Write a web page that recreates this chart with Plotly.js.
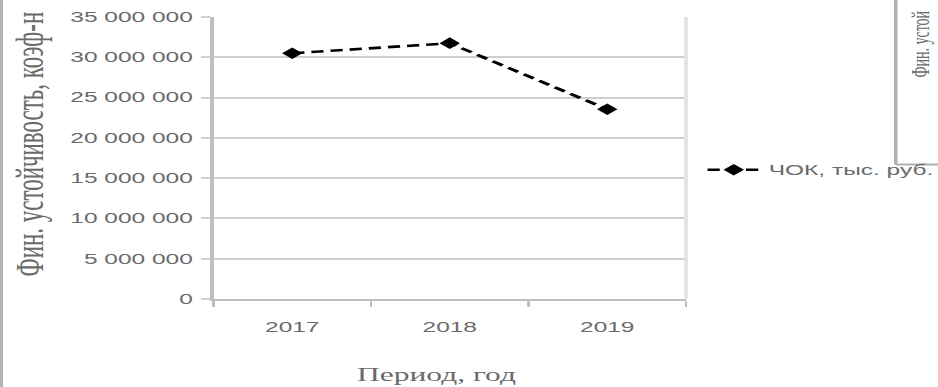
<!DOCTYPE html>
<html>
<head>
<meta charset="utf-8">
<script src="https://cdn.plot.ly/plotly-3.0.1.min.js"></script>
<style>
html,body{margin:0;padding:0;background:#fff;overflow:hidden;width:938px;height:387px;}
#wrap{width:536px;height:387px;transform:scaleX(1.75);transform-origin:0 0;}
#edge{position:absolute;left:0;top:0;width:3px;height:387px;background:#b4b4b4;z-index:5;}
</style>
</head>
<body>
<div id="edge"></div>
<div id="wrap"><div id="chart" style="width:536px;height:387px;"></div></div>
<script>
// Data
const years = ['2017', '2018', '2019'];
const chokValues = [30500000, 31750000, 23550000];
const seriesName = 'ЧОК, тыс. руб.';
const yTitle = 'Фин. устойчивость, коэф-н';
const xTitle = 'Период, год';
const sideTitle = 'Фин. устой';

const gray = '#6a6a6a';
const grid = '#cfcfcf';

const trace = {
  x: years,
  y: chokValues,
  type: 'scatter',
  mode: 'lines+markers',
  name: seriesName,
  line: {color: '#000', width: 2.6, dash: '7px,4px'},
  marker: {symbol: 'diamond', size: 9, color: '#000'}
};

const layout = {
  width: 536, height: 387, autosize: false,
  margin: {l: 122, r: 144, t: 17, b: 88, autoexpand: false},
  paper_bgcolor: '#fff', plot_bgcolor: '#fff',
  separators: '. ',
  showlegend: true,
  legend: {
    x: 1.027, xanchor: 'left', y: 0.457, yanchor: 'middle',
    font: {family: 'Liberation Sans, Arial, sans-serif', size: 14, color: gray},
    bgcolor: 'rgba(0,0,0,0)'
  },
  xaxis: {
    type: 'category', range: [-0.5, 2.5],
    tickson: 'boundaries', ticks: 'outside', ticklen: 6, tickcolor: '#bfbfbf', tickwidth: 1.5,
    showline: true, linecolor: '#bfbfbf', linewidth: 2,
    showgrid: false, zeroline: false,
    tickfont: {family: 'Liberation Sans, Arial, sans-serif', size: 14, color: gray},
    ticklabelstandoff: 14
  },
  yaxis: {
    range: [0, 35000000], dtick: 5000000, tickformat: ',d',
    ticks: 'outside', ticklen: 5, tickcolor: grid, tickwidth: 2,
    showline: true, linecolor: '#bfbfbf', linewidth: 2,
    showgrid: true, gridcolor: grid, gridwidth: 2,
    zeroline: false,
    tickfont: {family: 'Liberation Sans, Arial, sans-serif', size: 14, color: gray},
    ticklabelstandoff: 2
  },
  annotations: [
    {text: yTitle, xref: 'paper', yref: 'paper', x: -0.389, y: 0.551,
     xanchor: 'center', yanchor: 'middle', textangle: -90, showarrow: false,
     font: {family: 'Liberation Serif, Times New Roman, serif', size: 23, color: gray}},
    {text: xTitle, xref: 'paper', yref: 'paper', x: 0.473, y: -0.2695,
     xanchor: 'center', yanchor: 'middle', showarrow: false,
     font: {family: 'Liberation Serif, Times New Roman, serif', size: 18, color: gray}},
    {text: sideTitle, xref: 'paper', yref: 'paper', x: 1.497, y: 0.777,
     xanchor: 'center', yanchor: 'bottom', textangle: -90, showarrow: false,
     font: {family: 'Liberation Serif, Times New Roman, serif', size: 14, color: gray}}
  ],
  shapes: [
    // right plot-area border
    {type: 'line', xref: 'paper', yref: 'paper', x0: 1, x1: 1, y0: 0, y1: 1,
     line: {color: '#dde3ea', width: 2}},
    // neighbouring chart frame
    {type: 'line', xref: 'paper', yref: 'paper', x0: 1.444, x1: 1.444, y0: 0.477, y1: 1.1,
     line: {color: '#b0b0b0', width: 2}},
    {type: 'line', xref: 'paper', yref: 'paper', x0: 1.444, x1: 1.6, y0: 0.477, y1: 0.477,
     line: {color: '#b0b0b0', width: 2}}
  ]
};

Plotly.newPlot('chart', [trace], layout, {displayModeBar: false, staticPlot: true});
</script>
</body>
</html>
